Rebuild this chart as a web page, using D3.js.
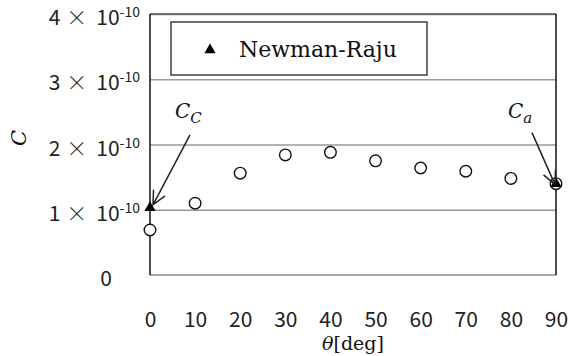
<!DOCTYPE html>
<html>
<head>
<meta charset="utf-8">
<script src="https://cdn.jsdelivr.net/npm/d3@7"></script>
<style>
  html, body { margin: 0; padding: 0; background: #fff; }
  svg { display: block; }
</style>
</head>
<body>
<div id="chart"></div>
<script>
// Stiffness coefficient C versus angle theta
const angles = [0, 10, 20, 30, 40, 50, 60, 70, 80, 90];
const cValues = [0.69e-10, 1.10e-10, 1.56e-10, 1.84e-10, 1.88e-10, 1.75e-10, 1.64e-10, 1.59e-10, 1.48e-10, 1.40e-10];
const newmanAngles = [0, 90];
const newmanValues = [1.03e-10, 1.40e-10];
const yTicks = [0, 1e-10, 2e-10, 3e-10, 4e-10];
const yMantissas = ["0", "1", "2", "3", "4"];
const xTicks = angles;
const legendLabel = "Newman-Raju";

const W = 571, H = 356;
const svg = d3.select("#chart").append("svg").attr("width", W).attr("height", H);

const x = d3.scaleLinear().domain([0, 90]).range([150, 556]);
const y = d3.scaleLinear().domain([0, 4e-10]).range([275, 14]);

const sansFont = "'Noto Sans CJK JP', 'DejaVu Sans', sans-serif";
const serifFont = "'DejaVu Serif', 'Liberation Serif', serif";

// horizontal gridlines
svg.append("g")
  .attr("transform", `translate(${x(0)},0)`)
  .call(d3.axisLeft(y).tickValues(yTicks.slice(1)).tickSize(-(x(90) - x(0))).tickFormat(""))
  .call(g => g.select(".domain").remove())
  .call(g => g.selectAll("line").attr("stroke", "#999").attr("stroke-width", 1.3));

// plot frame: bottom (grey), top, left and right
svg.append("line").attr("x1", x(0)).attr("x2", x(90)).attr("y1", y(0)).attr("y2", y(0))
  .attr("stroke", "#888").attr("stroke-width", 1.5);
svg.append("line").attr("x1", x(0)).attr("x2", x(90)).attr("y1", y(4e-10)).attr("y2", y(4e-10))
  .attr("stroke", "#555").attr("stroke-width", 1.3);
svg.append("line").attr("x1", x(0)).attr("x2", x(0)).attr("y1", y(0)).attr("y2", y(4e-10))
  .attr("stroke", "#111").attr("stroke-width", 1.5);
svg.append("line").attr("x1", x(90)).attr("x2", x(90)).attr("y1", y(0)).attr("y2", y(4e-10))
  .attr("stroke", "#111").attr("stroke-width", 1.5);

// y axis labels in the form  n×10^-10
const yAxis = svg.append("g")
  .attr("transform", `translate(${x(0)},0)`)
  .call(d3.axisLeft(y).tickValues(yTicks).tickSize(0).tickPadding(10).tickFormat(""));
yAxis.select(".domain").remove();
yAxis.selectAll(".tick text").each(function (d, i) {
  const t = d3.select(this)
    .attr("font-family", sansFont)
    .attr("font-size", 21)
    .attr("fill", "#222")
    .attr("text-anchor", "end")
    .attr("dy", "0.5em");
  if (d === 0) {
    t.attr("x", -38).text(yMantissas[i]);
  } else {
    t.append("tspan").text(yMantissas[i]);
    t.append("tspan").attr("dx", 6).attr("font-weight", 300).text("×");
    t.append("tspan").attr("dx", 9).text("10");
    t.append("tspan").attr("font-size", 14).attr("dy", -8).text("-10");
  }
});

// x axis labels
const xAxis = svg.append("g")
  .attr("transform", `translate(0,${y(0)})`)
  .call(d3.axisBottom(x).tickValues(xTicks).tickSize(0).tickFormat(d3.format("d")));
xAxis.select(".domain").remove();
xAxis.selectAll(".tick text")
  .attr("font-family", sansFont)
  .attr("font-size", 21)
  .attr("fill", "#222")
  .attr("y", 52)
  .attr("dy", 0);

// axis titles
const xt = svg.append("text")
  .attr("x", (x(0) + x(90)) / 2)
  .attr("y", 350)
  .attr("text-anchor", "middle")
  .attr("font-family", serifFont)
  .attr("font-size", 19)
  .attr("fill", "#111");
xt.append("tspan").attr("font-style", "italic").text("θ");
xt.append("tspan").text("[deg]");

svg.append("text")
  .attr("transform", "translate(26,138) rotate(-90)")
  .attr("text-anchor", "middle")
  .attr("font-family", serifFont)
  .attr("font-style", "italic")
  .attr("font-size", 21)
  .attr("fill", "#111")
  .text("C");

// measured points (open circles)
svg.append("g").selectAll("circle")
  .data(angles.map((a, i) => [a, cValues[i]]))
  .join("circle")
  .attr("cx", d => x(d[0]))
  .attr("cy", d => y(d[1]))
  .attr("r", 5.8)
  .attr("fill", "#fff")
  .attr("stroke", "#111")
  .attr("stroke-width", 1.4);

// Newman-Raju values (filled triangles)
const tri = d3.symbol().type(d3.symbolTriangle).size(55);
svg.append("g").selectAll("path")
  .data(newmanAngles.map((a, i) => [a, newmanValues[i]]))
  .join("path")
  .attr("d", tri)
  .attr("transform", d => `translate(${x(d[0])},${y(d[1])})`)
  .attr("fill", "#000");

// legend
const lg = svg.append("g");
lg.append("rect").attr("x", 171).attr("y", 22).attr("width", 256).attr("height", 53)
  .attr("fill", "#fff").attr("stroke", "#222").attr("stroke-width", 1.3);
lg.append("path").attr("d", tri).attr("transform", "translate(210,50)").attr("fill", "#000");
lg.append("text").attr("x", 239).attr("y", 57)
  .attr("font-family", serifFont).attr("font-size", 22).attr("fill", "#111")
  .text(legendLabel);

// annotations with arrows
function arrow(x1, y1, x2, y2) {
  const ang = Math.atan2(y2 - y1, x2 - x1);
  const len = 15, spread = 0.45;
  const p = d3.path();
  p.moveTo(x1, y1); p.lineTo(x2, y2);
  p.moveTo(x2 - len * Math.cos(ang - spread), y2 - len * Math.sin(ang - spread));
  p.lineTo(x2, y2);
  p.lineTo(x2 - len * Math.cos(ang + spread), y2 - len * Math.sin(ang + spread));
  svg.append("path").attr("d", p.toString())
    .attr("fill", "none").attr("stroke", "#222").attr("stroke-width", 1.5);
}
function label(px, py, main, sub) {
  const t = svg.append("text").attr("x", px).attr("y", py)
    .attr("font-family", serifFont).attr("font-style", "italic")
    .attr("font-size", 20).attr("fill", "#111");
  t.append("tspan").text(main);
  t.append("tspan").attr("font-size", 15).attr("dy", 5).text(sub);
}

const cc = [x(newmanAngles[0]), y(newmanValues[0])];
arrow(cc[0] + 40, cc[1] - 73, cc[0] + 3, cc[1] - 3);
label(cc[0] + 25, cc[1] - 90, "C", "C");

const ca = [x(newmanAngles[1]), y(newmanValues[1])];
arrow(ca[0] - 24, ca[1] - 51, ca[0] - 1, ca[1] + 1);
label(ca[0] - 48, ca[1] - 66, "C", "a");
</script>
</body>
</html>
